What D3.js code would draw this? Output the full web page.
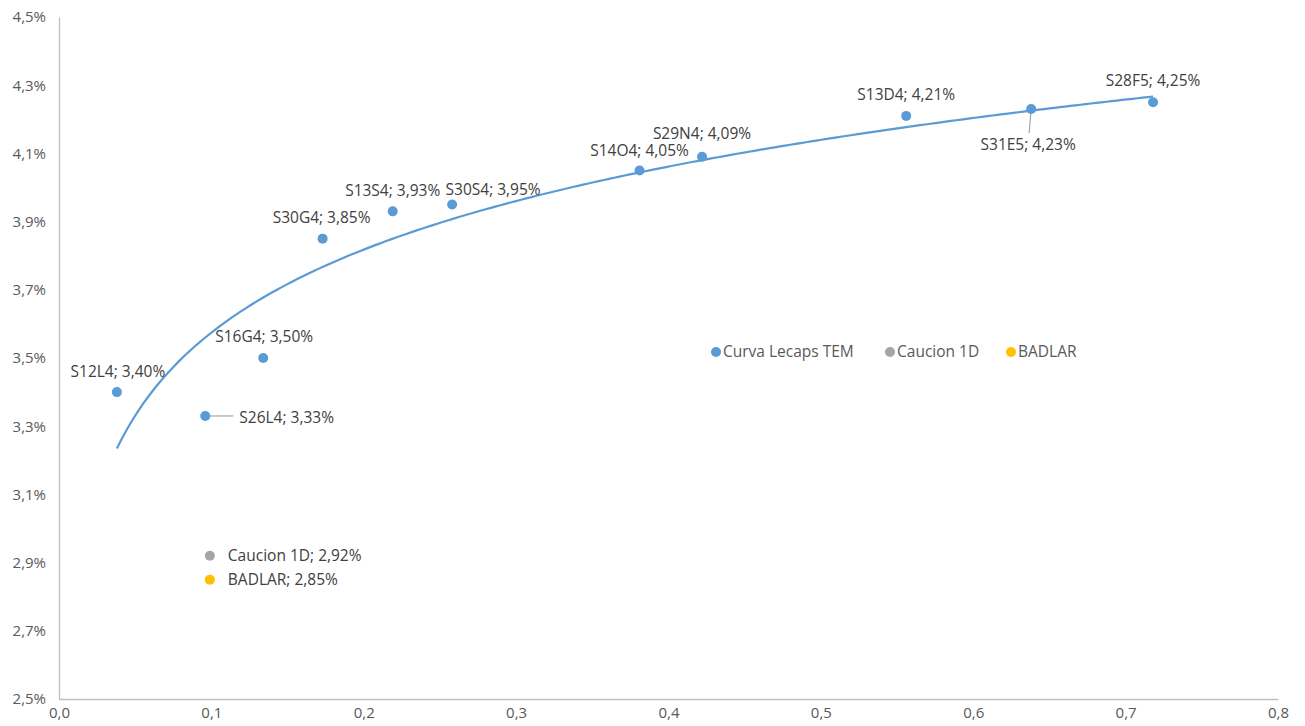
<!DOCTYPE html>
<html>
<head>
<meta charset="utf-8">
<script src="https://cdn.jsdelivr.net/npm/d3@7"></script>
<style>
  html, body { margin: 0; padding: 0; background: #fff; }
  svg { display: block; font-family: "Open Sans", Lato, sans-serif; }
</style>
</head>
<body>
<svg id="chart" width="1305" height="726"></svg>
<script>
// ---- Data ----
const lecapsNames = ["S12L4","S26L4","S16G4","S30G4","S13S4","S30S4","S14O4","S29N4","S13D4","S31E5","S28F5"];
const lecapsX     = [0.038, 0.096, 0.134, 0.173, 0.219, 0.258, 0.381, 0.422, 0.556, 0.638, 0.718];
const lecapsY     = [3.40, 3.33, 3.50, 3.85, 3.93, 3.95, 4.05, 4.09, 4.21, 4.23, 4.25];
const caucionX = [0.099];
const caucionY = [2.92];
const badlarX  = [0.099];
const badlarY  = [2.85];
const xTicks = [0, 0.1, 0.2, 0.3, 0.4, 0.5, 0.6, 0.7, 0.8];
const yTicks = [2.5, 2.7, 2.9, 3.1, 3.3, 3.5, 3.7, 3.9, 4.1, 4.3, 4.5];
const legendNames = ["Curva Lecaps TEM", "Caucion 1D", "BADLAR"];

// ---- Layout / style (kept apart from the data) ----
const colors = { lecaps: "#5B9BD5", caucion: "#A5A5A5", badlar: "#FFC000" };
const margin = { left: 59, right: 27, top: 17, bottom: 27 };
const W = 1305, H = 726;
const FONT = "15.5px";
const TICKFONT = "15px";
// label offsets in px relative to point [dx, dy, anchor, leader]
const lecapsLabelPos = [
  [1, -21, "middle", false],
  [34, 2, "start", true],
  [1, -21, "middle", false],
  [-1, -21, "middle", false],
  [0, -21, "middle", false],
  [41, -15, "middle", false],
  [0, -20, "middle", false],
  [0, -23, "middle", false],
  [0, -21, "middle", false],
  [-3, 36, "middle", true],
  [0, -22, "middle", false]
];

const svg = d3.select("#chart");
const x = d3.scaleLinear().domain([0, 0.8]).range([margin.left, W - margin.right]);
const y = d3.scaleLinear().domain([2.5, 4.5]).range([H - margin.bottom, margin.top]);
const comma = s => s.replace(".", ",");

// axes
const xAxis = d3.axisBottom(x).tickValues(xTicks).tickSize(0).tickPadding(8)
  .tickFormat(d => comma(d3.format(".1f")(d)));
const yAxis = d3.axisLeft(y).tickValues(yTicks).tickSize(0).tickPadding(13)
  .tickFormat(d => comma(d3.format(".1f")(d)) + "%");

const gx = svg.append("g").attr("transform", `translate(0,${y(2.5)})`).call(xAxis);
const gy = svg.append("g").attr("transform", `translate(${x(0)},0)`).call(yAxis);
[gx, gy].forEach(g => {
  g.select(".domain").attr("stroke", "#BFBFBF").attr("stroke-width", 1.3);
  g.selectAll("text").attr("fill", "#595959").style("font-size", TICKFONT)
    .style("font-family", "'Open Sans', Lato, sans-serif");
});
gx.selectAll("text").attr("dy", "0.71em");

// logarithmic trendline computed by least squares on ln(x)
const lx = lecapsX.map(Math.log);
const n = lx.length;
const mx = d3.mean(lx), my = d3.mean(lecapsY);
let sxy = 0, sxx = 0;
for (let i = 0; i < n; i++) { sxy += (lx[i]-mx)*(lecapsY[i]-my); sxx += (lx[i]-mx)**2; }
const b = sxy / sxx, a = my - b * mx;
const xmin = d3.min(lecapsX), xmax = d3.max(lecapsX);
const trendPts = d3.range(0, 201).map(i => {
  const xv = xmin + (xmax - xmin) * i / 200;
  return [xv, a + b * Math.log(xv)];
});
svg.append("path")
  .datum(trendPts)
  .attr("fill", "none")
  .attr("stroke", colors.lecaps)
  .attr("stroke-width", 2.2)
  .attr("d", d3.line().x(d => x(d[0])).y(d => y(d[1])).curve(d3.curveLinear));

// leader lines
const lec = lecapsNames.map((nm, i) => ({ name: nm, x: lecapsX[i], y: lecapsY[i], pos: lecapsLabelPos[i] }));
lec.filter(d => d.pos[3]).forEach(d => {
  const px = x(d.x), py = y(d.y);
  let x2, y2;
  if (d.pos[2] === "start") { x2 = px + d.pos[0] - 6; y2 = py; }
  else { x2 = px + d.pos[0] + 1; y2 = py + d.pos[1] - 12; }
  svg.append("line").attr("x1", px).attr("y1", py).attr("x2", x2).attr("y2", y2)
    .attr("stroke", "#A6A6A6").attr("stroke-width", 1.2);
});

// points
svg.append("g").selectAll("circle").data(lec).join("circle")
  .attr("cx", d => x(d.x)).attr("cy", d => y(d.y)).attr("r", 5)
  .attr("fill", colors.lecaps);

svg.append("g").selectAll("circle").data(caucionX.map((v, i) => ({ x: v, y: caucionY[i] }))).join("circle")
  .attr("cx", d => x(d.x)).attr("cy", d => y(d.y)).attr("r", 5).attr("fill", colors.caucion);
svg.append("g").selectAll("circle").data(badlarX.map((v, i) => ({ x: v, y: badlarY[i] }))).join("circle")
  .attr("cx", d => x(d.x)).attr("cy", d => y(d.y)).attr("r", 5).attr("fill", colors.badlar);

// labels
const fmtPct = v => comma(d3.format(".2f")(v)) + "%";
svg.append("g").selectAll("text").data(lec).join("text")
  .attr("x", d => x(d.x) + d.pos[0])
  .attr("y", d => y(d.y) + d.pos[1])
  .attr("dy", "0.35em")
  .attr("text-anchor", d => d.pos[2])
  .attr("fill", "#404040")
  .style("font-size", FONT)
  .text(d => `${d.name}; ${fmtPct(d.y)}`);

svg.append("text").attr("x", x(caucionX[0]) + 18).attr("y", y(caucionY[0])).attr("dy", "0.35em")
  .attr("fill", "#404040").style("font-size", FONT)
  .text(`${legendNames[1]}; ${fmtPct(caucionY[0])}`);
svg.append("text").attr("x", x(badlarX[0]) + 18).attr("y", y(badlarY[0])).attr("dy", "0.35em")
  .attr("fill", "#404040").style("font-size", FONT)
  .text(`${legendNames[2]}; ${fmtPct(badlarY[0])}`);

// legend
const legendX = [716, 890, 1011];
const legendColors = [colors.lecaps, colors.caucion, colors.badlar];
const lg = svg.append("g").attr("transform", "translate(0,352)");
legendNames.forEach((nm, i) => {
  lg.append("circle").attr("cx", legendX[i]).attr("cy", 0).attr("r", 5).attr("fill", legendColors[i]);
  lg.append("text").attr("x", legendX[i] + 7).attr("y", 0).attr("dy", "0.35em")
    .attr("fill", "#595959").style("font-size", FONT).text(nm);
});
</script>
</body>
</html>
